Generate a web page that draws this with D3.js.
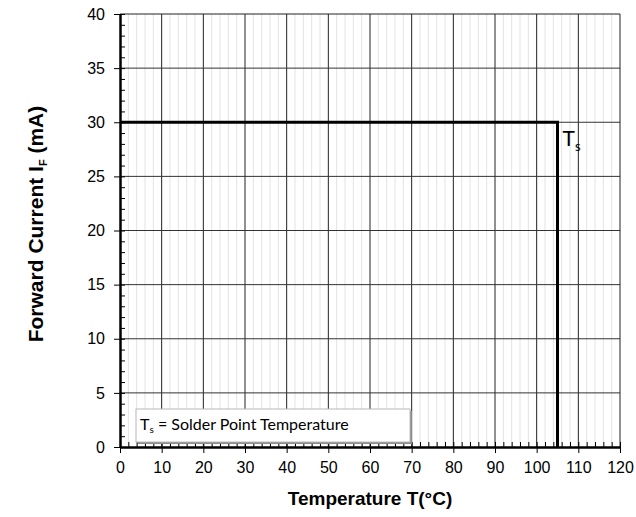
<!DOCTYPE html>
<html>
<head>
<meta charset="utf-8">
<script src="https://cdn.jsdelivr.net/npm/d3@7"></script>
<style>
  body { margin: 0; background: #fff; }
  svg { display: block; }
  svg text { font-family: "Liberation Sans", Arial, sans-serif; }
</style>
</head>
<body>
<script>
// derating curve: forward current vs solder point temperature
let temps = [0, 105, 105];
let currents = [30, 30, 0];
let xTicks = [0, 10, 20, 30, 40, 50, 60, 70, 80, 90, 100, 110, 120];
let yTicks = [0, 5, 10, 15, 20, 25, 30, 35, 40];
let xMinor = d3.range(0, 121, 2);
let yMinor = d3.range(0, 41, 1);

let svg = d3.select('body')
      .append('svg')
      .attr('width', 636)
      .attr('height', 517);

let x = d3.scaleLinear().domain([0, 120]).range([120, 620]);
let y = d3.scaleLinear().domain([0, 40]).range([447, 14]);

// minor vertical grid (light)
svg.append('g')
  .selectAll('line')
  .data(xMinor.filter(d => d % 10 != 0))
  .join('line')
  .attr('x1', d => x(d)).attr('x2', d => x(d))
  .attr('y1', y(40)).attr('y2', y(0))
  .style('stroke', '#e3e3e3')
  .style('stroke-width', 1);

// major grid
svg.append('g')
  .selectAll('line')
  .data(xTicks.slice(1, -1))
  .join('line')
  .attr('x1', d => x(d)).attr('x2', d => x(d))
  .attr('y1', y(40)).attr('y2', y(0))
  .style('stroke', '#222')
  .style('stroke-width', 1);

svg.append('g')
  .selectAll('line')
  .data(yTicks.slice(1, -1))
  .join('line')
  .attr('x1', x(0)).attr('x2', x(120))
  .attr('y1', d => y(d)).attr('y2', d => y(d))
  .style('stroke', '#333')
  .style('stroke-width', 1);

// frame top / right
svg.append('line')
  .attr('x1', x(0)).attr('x2', x(120)).attr('y1', y(40)).attr('y2', y(40))
  .style('stroke', '#222');
svg.append('line')
  .attr('x1', x(120)).attr('x2', x(120)).attr('y1', y(40)).attr('y2', y(0))
  .style('stroke', '#222');

// minor ticks (inside)
svg.append('g')
  .attr('transform', `translate(0,${y(0)})`)
  .call(d3.axisTop(x).tickValues(xMinor).tickSize(5).tickFormat(''))
  .call(g => g.select('.domain').remove())
  .selectAll('line').style('stroke', '#000');

svg.append('g')
  .attr('transform', `translate(${x(0)},0)`)
  .call(d3.axisRight(y).tickValues(yMinor).tickSize(5).tickFormat(''))
  .call(g => g.select('.domain').remove())
  .selectAll('line').style('stroke', '#000');

// main axes
let xAxis = svg.append('g')
  .attr('transform', `translate(0,${y(0)})`)
  .call(d3.axisBottom(x).tickValues(xTicks).tickSize(6).tickSizeOuter(0).tickPadding(9));
xAxis.select('.domain').style('stroke-width', 2.5);
xAxis.selectAll('text').style('font-size', '16px').style('fill', '#000');

let yAxis = svg.append('g')
  .attr('transform', `translate(${x(0)},0)`)
  .call(d3.axisLeft(y).tickValues(yTicks).tickSize(6).tickSizeOuter(0).tickPadding(9));
yAxis.select('.domain').style('stroke-width', 2.5);
yAxis.selectAll('text').style('font-size', '16px').style('fill', '#000');

// the curve
let lineDrawer = d3.line()
      .x(d => x(d[0]))
      .y(d => y(d[1]));

svg.append('path')
  .style('fill', 'none')
  .style('stroke', 'black')
  .style('stroke-width', 3)
  .attr('d', lineDrawer(d3.zip(temps, currents)));

// Ts label
let ts = svg.append('text')
  .attr('x', x(105) + 5).attr('y', y(27.8))
  .style('font-family', 'Lato, sans-serif')
  .style('font-size', '21px');
ts.append('tspan').text('T');
ts.append('tspan').attr('dy', 5).style('font-size', '13px').text('s');

// legend box with shadow
let lx = 136, ly = 409, lw = 274, lh = 33;
svg.append('rect')
  .attr('x', lx + 2).attr('y', ly + 2).attr('width', lw).attr('height', lh)
  .style('fill', '#8a8a8a');
svg.append('rect')
  .attr('x', lx).attr('y', ly).attr('width', lw).attr('height', lh)
  .style('fill', '#fff')
  .style('stroke', '#b8b8b8')
  .style('stroke-width', 1);

let leg = svg.append('text')
  .attr('x', lx + 4).attr('y', ly + 21)
  .style('font-family', 'Lato, sans-serif')
  .style('font-size', '16px');
leg.append('tspan').text('T');
leg.append('tspan').attr('dy', 3).style('font-size', '10px').text('s');
leg.append('tspan').attr('dy', -3).text(' = Solder Point Temperature');

// axis titles
svg.append('text')
  .attr('x', 370).attr('y', 505)
  .attr('text-anchor', 'middle')
  .style('font-size', '19px')
  .style('font-weight', 'bold')
  .text('Temperature T(°C)');

let yt = svg.append('text')
  .attr('transform', 'translate(43,224) rotate(-90)')
  .attr('text-anchor', 'middle')
  .style('font-size', '21px')
  .style('font-weight', 'bold');
yt.append('tspan').text('Forward Current I');
yt.append('tspan').attr('dy', 4).style('font-size', '11px').text('F');
yt.append('tspan').attr('dy', -4).text(' (mA)');
</script>
</body>
</html>
